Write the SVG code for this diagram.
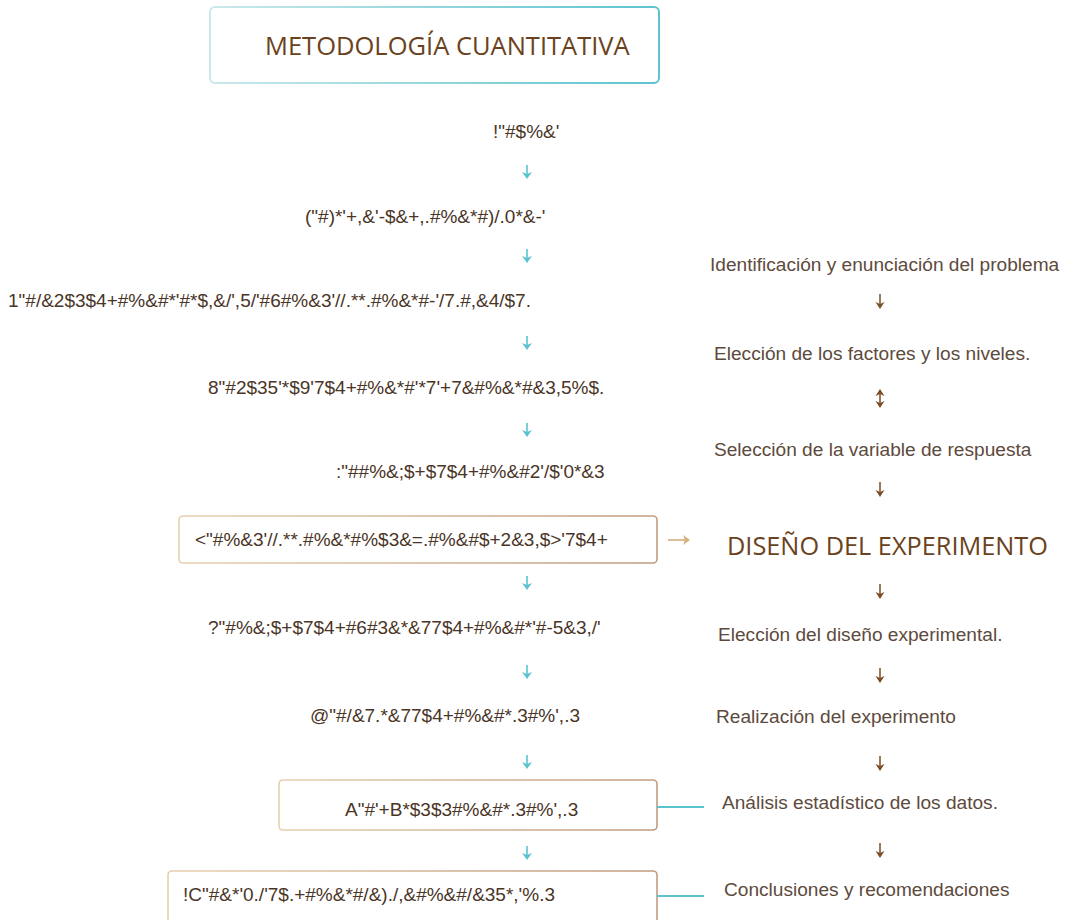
<svg xmlns="http://www.w3.org/2000/svg" width="1070" height="920" viewBox="0 0 1070 920">
<defs>
<linearGradient id="gTitle" x1="0" y1="0" x2="1" y2="0">
<stop offset="0" stop-color="#cbe9eb"/>
<stop offset="1" stop-color="#5cc4cf"/>
</linearGradient>
<linearGradient id="gBox" x1="0" y1="0" x2="1" y2="0">
<stop offset="0" stop-color="#e6cfae"/>
<stop offset="1" stop-color="#c09c7e"/>
</linearGradient>
</defs>
<style>
.l{font-family:"Liberation Sans",Arial,sans-serif;font-size:19px;fill:#4a3527}
.r{font-family:"Liberation Sans",Arial,sans-serif;font-size:19.1px;fill:#5d4a3c}
.h{font-family:"Open Sans","DejaVu Sans",sans-serif;font-size:25.5px;fill:#6a4220}
.box{fill:#fff;stroke:url(#gBox);stroke-width:1.6}
.ca{stroke:#5bc3cf;stroke-width:1.6;fill:none}
.cah{fill:#5bc3cf}
.ba{stroke:#7a4e26;stroke-width:1.5;fill:none}
.bah{fill:#7a4e26}
</style>
<rect width="1070" height="920" fill="#fff"/>

<g id="title">
<rect x="210" y="7" width="449" height="76" rx="5" fill="#fff" stroke="url(#gTitle)" stroke-width="2"/>
<text class="h" x="265" y="55">METODOLOGÍA CUANTITATIVA</text>
</g>

<g id="n1"><text class="l" x="493" y="138">!"#$%&amp;'</text></g>
<g id="n2"><text class="l" x="305" y="223">("#)*'+,&amp;'-$&amp;+,.#%&amp;*#)/.0*&amp;-'</text></g>
<g id="n3"><text class="l" x="8" y="307">1"#/&amp;2$3$4+#%&amp;#*'#*$,&amp;/',5/'#6#%&amp;3'//.**.#%&amp;*#-'/7.#,&amp;4/$7.</text></g>
<g id="n4"><text class="l" x="208" y="394">8"#2$35'*$9'7$4+#%&amp;*#'*7'+7&amp;#%&amp;*#&amp;3,5%$.</text></g>
<g id="n5"><text class="l" x="336" y="478">:"##%&amp;;$+$7$4+#%&amp;#2'/$'0*&amp;3</text></g>
<g id="n6">
<rect class="box" x="179" y="516" width="478" height="47" rx="4"/>
<text class="l" x="195" y="546">&lt;"#%&amp;3'//.**.#%&amp;*#%$3&amp;=.#%&amp;#$+2&amp;3,$&gt;'7$4+</text>
</g>
<g id="n7"><text class="l" x="208" y="634">?"#%&amp;;$+$7$4+#6#3&amp;*&amp;77$4+#%&amp;#*'#-5&amp;3,/'</text></g>
<g id="n8"><text class="l" x="310" y="722">@"#/&amp;7.*&amp;77$4+#%&amp;#*.3#%',.3</text></g>
<g id="n9">
<rect class="box" x="279" y="780" width="378" height="50" rx="4"/>
<text class="l" x="345" y="816">A"#'+B*$3$3#%&amp;#*.3#%',.3</text>
</g>
<g id="n10">
<rect class="box" x="168" y="871" width="489" height="60" rx="4"/>
<text class="l" x="183" y="901">!C"#&amp;*'0./'7$.+#%&amp;*#/&amp;)./,&amp;#%&amp;#/&amp;35*,'%.3</text>
</g>

<g id="r1"><text class="r" x="710" y="271">Identificación y enunciación del problema</text></g>
<g id="r2"><text class="r" x="714" y="360">Elección de los factores y los niveles.</text></g>
<g id="r3"><text class="r" x="714" y="456">Selección de la variable de respuesta</text></g>
<g id="r4"><text class="h" x="727" y="555" style="font-size:25.3px">DISEÑO DEL EXPERIMENTO</text></g>
<g id="r5"><text class="r" x="718" y="641">Elección del diseño experimental.</text></g>
<g id="r6"><text class="r" x="716" y="723">Realización del experimento</text></g>
<g id="r7"><text class="r" x="722" y="809">Análisis estadístico de los datos.</text></g>
<g id="r8"><text class="r" x="724" y="896">Conclusiones y recomendaciones</text></g>

<g id="connectors">
<g>
<path class="ca" d="M527 165V175"/><path class="cah" d="M522 172L527 179L532 172L527 174Z"/>
<path class="ca" d="M527 249V259"/><path class="cah" d="M522 256L527 263L532 256L527 258Z"/>
<path class="ca" d="M527 336V346"/><path class="cah" d="M522 343L527 350L532 343L527 345Z"/>
<path class="ca" d="M527 423V433"/><path class="cah" d="M522 430L527 437L532 430L527 432Z"/>
<path class="ca" d="M527 576V586"/><path class="cah" d="M522 583L527 590L532 583L527 585Z"/>
<path class="ca" d="M527 665V675"/><path class="cah" d="M522 672L527 679L532 672L527 674Z"/>
<path class="ca" d="M527 755V765"/><path class="cah" d="M522 762L527 769L532 762L527 764Z"/>
<path class="ca" d="M527 846V856"/><path class="cah" d="M522 853L527 860L532 853L527 855Z"/>
</g>
<g>
<path class="ba" d="M880 294V305"/><path class="bah" d="M875.5 302L880 309L884.5 302L880 304Z"/>
<path class="ba" d="M880 392V404"/><path class="bah" d="M875.5 396L880 389L884.5 396L880 394Z"/><path class="bah" d="M875.5 401L880 408L884.5 401L880 403Z"/>
<path class="ba" d="M880 482V493"/><path class="bah" d="M875.5 490L880 497L884.5 490L880 492Z"/>
<path class="ba" d="M880 584V595"/><path class="bah" d="M875.5 592L880 599L884.5 592L880 594Z"/>
<path class="ba" d="M880 668V679"/><path class="bah" d="M875.5 676L880 683L884.5 676L880 678Z"/>
<path class="ba" d="M880 756V767"/><path class="bah" d="M875.5 764L880 771L884.5 764L880 766Z"/>
<path class="ba" d="M880 843V854"/><path class="bah" d="M875.5 851L880 858L884.5 851L880 853Z"/>
</g>
<path d="M668 540H686" stroke="#d6ae80" stroke-width="1.6" fill="none"/>
<path d="M683 535L690 540L683 545L685 540Z" fill="#d6ae80"/>
<path d="M657 807H704" stroke="#5bc3cf" stroke-width="1.8"/>
<path d="M657 896H704" stroke="#5bc3cf" stroke-width="1.8"/>
</g>
</svg>
